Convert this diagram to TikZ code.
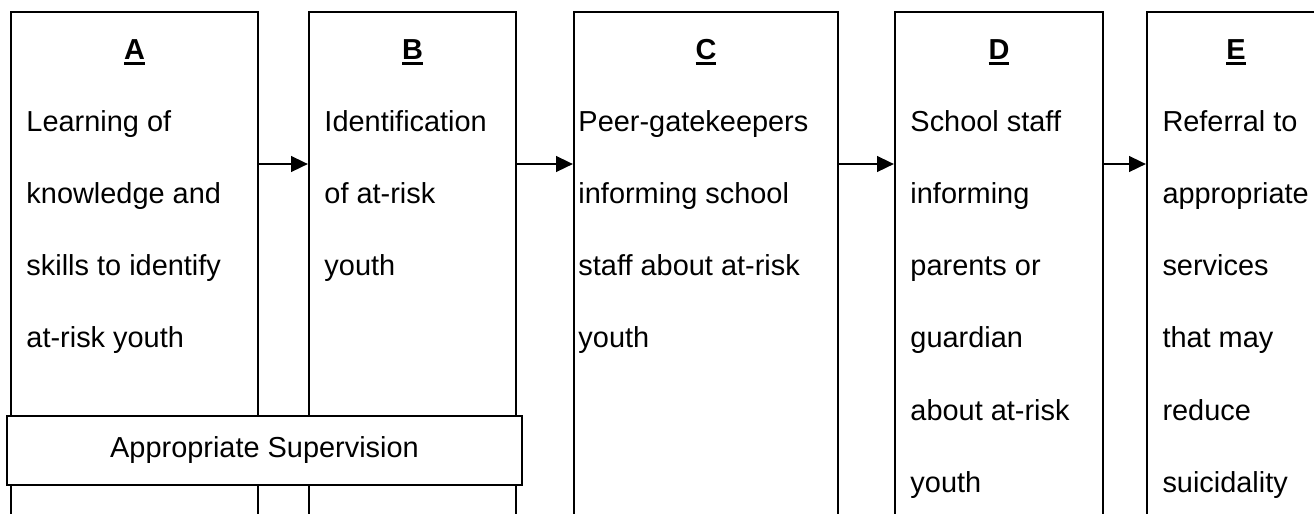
\documentclass[tikz,border=0pt]{standalone}
\usepackage{fontspec}
\setmainfont{Liberation Sans}
\usetikzlibrary{arrows.meta,fit,positioning}

% bold letter with a heavy underline
\newcommand\stagetitle[1]{\setbox0\hbox{\textbf{#1}}\rlap{\rule[-2.4pt]{\wd0}{1pt}}\box0}

\begin{document}
\begin{tikzpicture}[%
    x=0.415pt, y=-0.415pt,               % one unit is one pixel of the page
    >={Triangle[length=7pt,width=6.5pt]},
    ]
% -------------------------------------------------
\tikzset{
  stage/.style={draw, line width=0.9pt, inner sep=0pt},
  heading/.style={anchor=base, inner sep=0pt, font=\fontsize{12}{30}\selectfont},
  body/.style={anchor=base west, inner sep=0pt, font=\fontsize{12}{30}\selectfont},
  superv/.style={draw, fill=white, line width=0.6pt, inner sep=0pt},
  flow/.style={->, line width=0.9pt}
}
\path[use as bounding box, clip] (0,0) rectangle (1314,513);
% -------------------------------------------------
% The five stages; their bottoms run off the page
\node [stage, fit={(11,12) (258,540)}]    (boxA) {};
\node [stage, fit={(309,12) (516,540)}]   (boxB) {};
\node [stage, fit={(574,12) (838,540)}]   (boxC) {};
\node [stage, fit={(895,12) (1103,540)}]  (boxD) {};
\node [stage, fit={(1147,12) (1325,540)}] (boxE) {};

\node [heading] (titleA) at (134.5,59) {\stagetitle{A}};
\node [heading] (titleB) at (412.5,59) {\stagetitle{B}};
\node [heading] (titleC) at (706,59)   {\stagetitle{C}};
\node [heading] (titleD) at (999,59)   {\stagetitle{D}};
\node [heading] (titleE) at (1236,59)  {\stagetitle{E}};

% Text lines, double spaced
\foreach \ln [count=\i from 0] in {Learning of, knowledge and,
    skills to identify, at-risk youth}
  \node [body] (textA-\i) at (26,131+72.3*\i) {\ln};
\foreach \ln [count=\i from 0] in {Identification, of at-risk, youth}
  \node [body] (textB-\i) at (324,131+72.3*\i) {\ln};
\foreach \ln [count=\i from 0] in {Peer-gatekeepers, informing school,
    staff about at-risk, youth}
  \node [body] (textC-\i) at (578,131+72.3*\i) {\ln};
\foreach \ln [count=\i from 0] in {School staff, informing, parents or,
    guardian, about at-risk, youth}
  \node [body] (textD-\i) at (910,131+72.3*\i) {\ln};
\foreach \ln [count=\i from 0] in {Referral to, appropriate, services,
    that may, reduce, suicidality}
  \node [body] (textE-\i) at (1162,131+72.3*\i) {\ln};

% Supervision band across the first two stages
\node [superv, fit={(7,416) (522,485)}] (supervision) {};
\node [heading] (supervtext) at (264.5,457) {Appropriate Supervision};

% -------------------------------------------------
% Connectors between the stages
\coordinate (flowline) at (0,164);
\draw [flow] (boxA.east |- flowline) -- (boxB.west |- flowline);
\draw [flow] (boxB.east |- flowline) -- (boxC.west |- flowline);
\draw [flow] (boxC.east |- flowline) -- (boxD.west |- flowline);
\draw [flow] (boxD.east |- flowline) -- (boxE.west |- flowline);
% -------------------------------------------------
\end{tikzpicture}
\end{document}
